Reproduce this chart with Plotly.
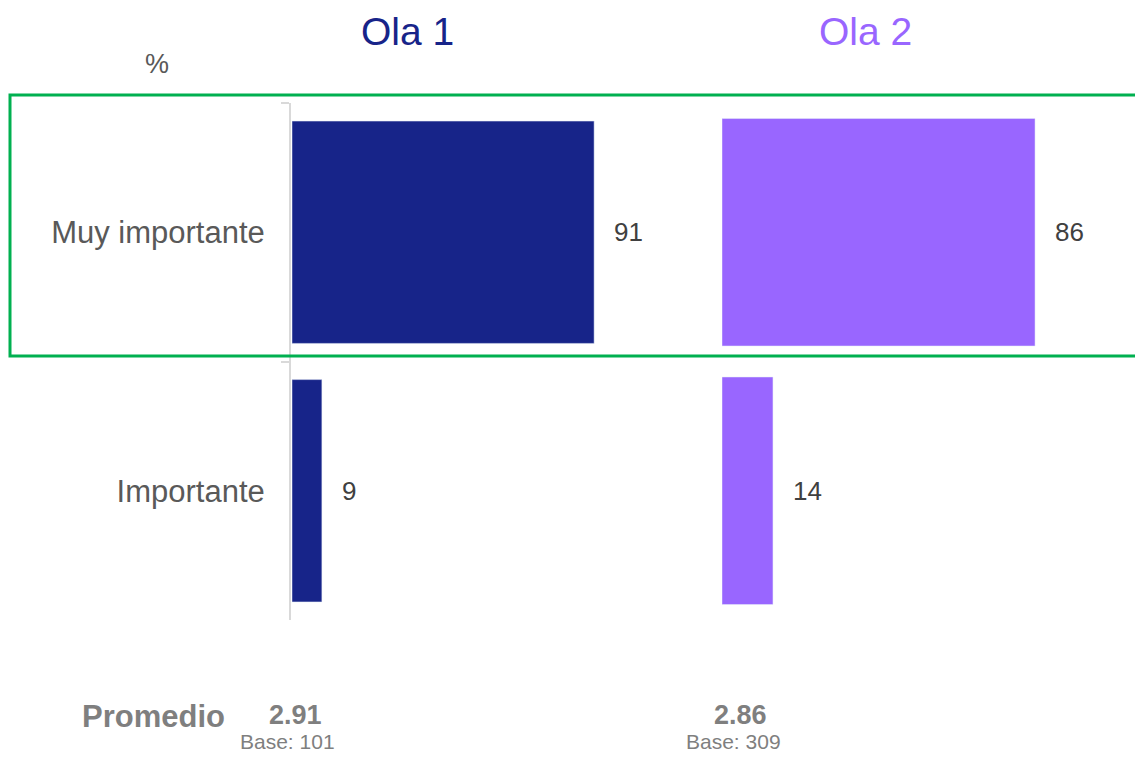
import plotly.graph_objects as go

categories = ["Muy importante", "Importante"]
ola1_values = [91, 9]
ola2_values = [86, 14]
wave_names = ["Ola 1", "Ola 2"]
promedios = [2.91, 2.86]
bases = [101, 309]

# the page body has an 8px margin: the figure is sized so that it fits the window
OFF = 8
W, H = 1143 - 2 * OFF, 760 - 2 * OFF
PLOT_TOP, PLOT_BOTTOM = 103, 620  # in window pixels
FONT = "Arial, Liberation Sans, sans-serif"
NAVY = "#172489"
PURPLE = "#9966FF"


def px(x):
    return (x - OFF) / W


def py(y):
    return (PLOT_BOTTOM - y) / (PLOT_BOTTOM - PLOT_TOP)


fig = go.Figure()
fig.add_trace(go.Bar(y=categories, x=ola1_values, orientation="h", marker_color=NAVY,
                     width=0.86, xaxis="x", yaxis="y", hoverinfo="skip", name=wave_names[0]))
fig.add_trace(go.Bar(y=categories, x=ola2_values, orientation="h", marker_color=PURPLE,
                     width=0.88, xaxis="x2", yaxis="y", hoverinfo="skip", name=wave_names[1]))

annotations = []
for xref, vals in (("x", ola1_values), ("x2", ola2_values)):
    for cat, v in zip(categories, vals):
        annotations.append(dict(x=v, y=cat, xref=xref, yref="y", text=str(v), showarrow=False,
                                xanchor="left", yanchor="middle", xshift=18,
                                font=dict(size=26, color="#404040", family=FONT)))

# wave titles
title_x = [407, 865]
title_col = [NAVY, PURPLE]
for name, xc, col in zip(wave_names, title_x, title_col):
    annotations.append(dict(x=px(xc), y=py(31), xref="paper", yref="paper", text=name, showarrow=False,
                            xanchor="center", yanchor="middle", font=dict(size=39, color=col, family=FONT)))

annotations.append(dict(x=px(157), y=py(64), xref="paper", yref="paper", text="%", showarrow=False,
                        xanchor="center", yanchor="middle", font=dict(size=27, color="#595959", family=FONT)))

annotations.append(dict(x=px(153), y=py(716), xref="paper", yref="paper", text="<b>Promedio</b>",
                        showarrow=False, xanchor="center", yanchor="middle",
                        font=dict(size=31, color="#7F7F7F", family=FONT)))
prom_x = [295, 740]
base_x = [287, 733]
for p, b, xp, xb in zip(promedios, bases, prom_x, base_x):
    annotations.append(dict(x=px(xp), y=py(715), xref="paper", yref="paper", text=f"<b>{p:.2f}</b>",
                            showarrow=False, xanchor="center", yanchor="middle",
                            font=dict(size=27, color="#7F7F7F", family=FONT)))
    annotations.append(dict(x=px(xb), y=py(741), xref="paper", yref="paper", text=f"Base: {b}",
                            showarrow=False, xanchor="center", yanchor="middle",
                            font=dict(size=21, color="#7F7F7F", family=FONT)))

fig.update_layout(
    width=W, height=H,
    margin=dict(l=0, r=0, t=PLOT_TOP - OFF, b=H + OFF - PLOT_BOTTOM, pad=0),
    paper_bgcolor="white", plot_bgcolor="white",
    showlegend=False,
    bargap=0.1,
    xaxis=dict(domain=[px(292), px(624)], range=[0, 100], visible=False, fixedrange=True),
    xaxis2=dict(domain=[px(722), px(1086)], range=[0, 100], visible=False, fixedrange=True, anchor="y"),
    yaxis=dict(categoryorder="array", categoryarray=categories, autorange="reversed",
               anchor="free", position=px(290), showline=True, linecolor="#D9D9D9", linewidth=2,
               ticks="outside", tickson="boundaries", ticklen=8, tickcolor="#D9D9D9", tickwidth=2,
               showgrid=False, zeroline=False, ticklabelstandoff=18,
               tickfont=dict(size=31, color="#595959", family=FONT)),
    annotations=annotations,
    shapes=[dict(type="rect", xref="paper", yref="paper", x0=px(10), x1=px(1160), y0=py(356), y1=py(95),
                 line=dict(color="#00B050", width=3), fillcolor="rgba(0,0,0,0)")],
)

fig.write_html("out.html")
